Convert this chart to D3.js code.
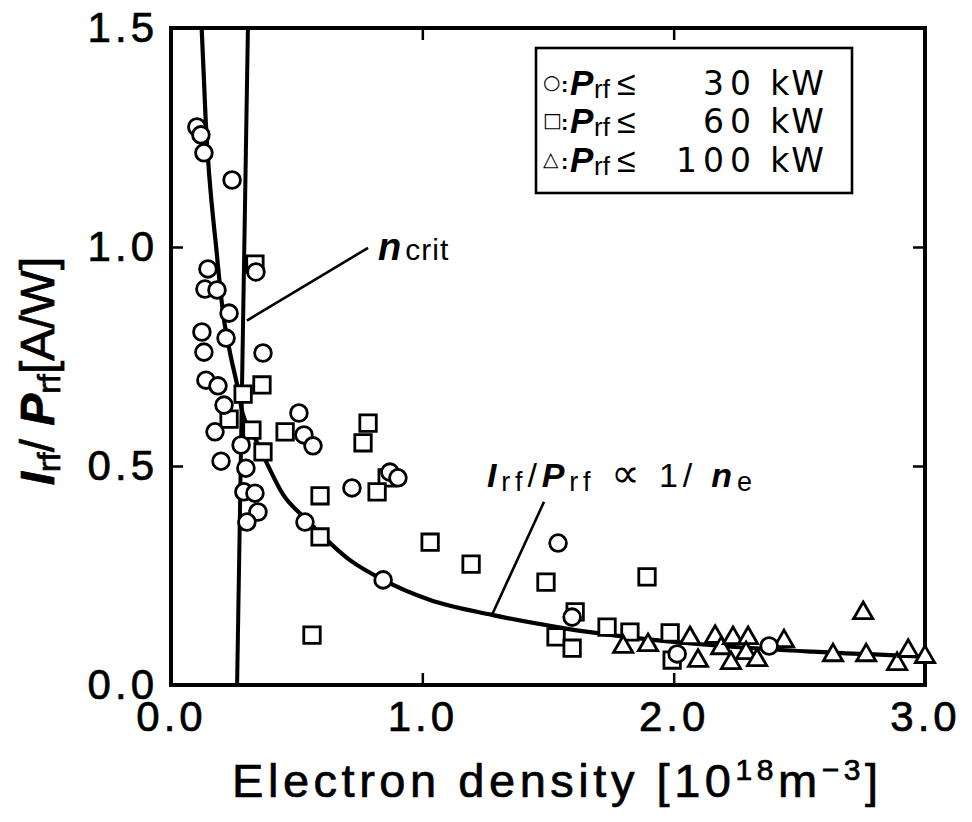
<!DOCTYPE html>
<html>
<head>
<meta charset="utf-8">
<script src="https://cdn.jsdelivr.net/npm/d3@7"></script>
<style>
  body { margin: 0; background: #fff; }
  svg { display: block; }
  text { font-family: "Liberation Sans", "DejaVu Sans", Arial, sans-serif; fill: #000; }
  .heavy { stroke: #000; stroke-width: 0.7px; }
</style>
</head>
<body>
<svg id="chart" width="972" height="822"></svg>
<script>
// Electron density [1e18 m^-3] and current-drive efficiency Irf/Prf [A/W]
// Prf <= 30 kW
const circleDensity = [0.103, 0.119, 0.131, 0.243, 0.147, 0.135, 0.183, 0.231, 0.123, 0.131, 0.219, 0.366, 0.338,
  0.139, 0.187, 0.211, 0.175, 0.279, 0.199, 0.298, 0.290, 0.334, 0.346, 0.302,
  0.509, 0.529, 0.565, 0.871, 0.903, 0.720, 0.533, 0.844, 1.540, 1.596, 2.014, 2.380];
const circleRatio = [1.274, 1.256, 1.215, 1.153, 0.950, 0.904, 0.902, 0.849, 0.806, 0.760, 0.792, 0.758, 0.943,
  0.696, 0.683, 0.639, 0.578, 0.548, 0.511, 0.495, 0.441, 0.438, 0.395, 0.372,
  0.621, 0.571, 0.546, 0.486, 0.473, 0.450, 0.372, 0.240, 0.324, 0.155, 0.071, 0.089];

// Prf <= 60 kW
const squareDensity = [0.334, 0.362, 0.287, 0.231, 0.322, 0.366, 0.454, 0.784, 0.764, 0.860, 0.820, 0.593, 0.593,
  1.031, 0.561, 1.194, 1.492, 1.894, 1.608, 1.532, 1.596, 1.735, 1.826, 1.986, 1.994];
const squareRatio = [0.961, 0.685, 0.664, 0.607, 0.582, 0.532, 0.578, 0.598, 0.553, 0.473, 0.441, 0.432, 0.338,
  0.326, 0.114, 0.276, 0.235, 0.247, 0.167, 0.110, 0.084, 0.132, 0.121, 0.119, 0.057];

// Prf <= 100 kW
const triangleDensity = [1.799, 1.898, 2.065, 2.097, 2.165, 2.189, 2.228, 2.236, 2.296, 2.288, 2.332, 2.439,
  2.634, 2.754, 2.766, 2.889, 2.933, 3.000];
const triangleRatio = [0.087, 0.091, 0.107, 0.055, 0.110, 0.084, 0.050, 0.107, 0.107, 0.073, 0.057, 0.100,
  0.068, 0.164, 0.068, 0.048, 0.078, 0.064];

// Irf/Prf ∝ 1/ne curve
const fitDensity = [0.122, 0.138, 0.182, 0.207, 0.235, 0.265, 0.285, 0.322, 0.366, 0.447, 0.533, 0.712, 0.844,
  1.031, 1.277, 1.560, 2.025, 2.555, 3.000];
const fitRatio = [1.500, 1.290, 0.986, 0.850, 0.758, 0.680, 0.620, 0.578, 0.525, 0.434, 0.381, 0.285, 0.240,
  0.194, 0.160, 0.130, 0.097, 0.076, 0.065];

// critical density line
const critDensity = [0.306, 0.263];
const critRatio = [1.5, 0.0];

const xTicks = [0, 1, 2, 3];
const yTicks = [0, 0.5, 1.0, 1.5];

const legendSymbols = ["○", "□", "△"];
const legendLimits = ["30", "60", "100"];

const svg = d3.select("#chart");
const W = 972, H = 822;
const m = { left: 171, right: 925, top: 28, bottom: 685 };

svg.append("rect").attr("width", W).attr("height", H).attr("fill", "#fff");

const x = d3.scaleLinear().domain([0, 3]).range([m.left, m.right]);
const y = d3.scaleLinear().domain([0, 1.5]).range([m.bottom, m.top]);

svg.append("clipPath").attr("id", "plot-clip")
  .append("rect").attr("x", m.left).attr("y", m.top)
  .attr("width", m.right - m.left).attr("height", m.bottom - m.top);

// axes with inward ticks
const fmt = d3.format(".1f");
function styleAxis(g, labels) {
  g.select(".domain").remove();
  g.selectAll(".tick line").attr("stroke", "#000").attr("stroke-width", 2.5);
  g.selectAll(".tick text")
    .attr("fill", "#000")
    .attr("class", "heavy")
    .style("font-size", "42px")
    .style("letter-spacing", "4px");
  if (!labels) g.selectAll(".tick text").remove();
}
svg.append("g").attr("transform", `translate(0,${m.bottom})`)
  .call(d3.axisBottom(x).tickValues(xTicks).tickSize(-12).tickPadding(16).tickFormat(fmt))
  .call(g => styleAxis(g, true));
svg.append("g").attr("transform", `translate(0,${m.top})`)
  .call(d3.axisTop(x).tickValues(xTicks).tickSize(-12).tickFormat(""))
  .call(g => styleAxis(g, false));
svg.append("g").attr("transform", `translate(${m.left},0)`)
  .call(d3.axisLeft(y).tickValues(yTicks).tickSize(-12).tickPadding(13).tickFormat(fmt))
  .call(g => styleAxis(g, true));
svg.append("g").attr("transform", `translate(${m.right},0)`)
  .call(d3.axisRight(y).tickValues(yTicks).tickSize(-12).tickFormat(""))
  .call(g => styleAxis(g, false));

// frame
svg.append("rect")
  .attr("x", m.left).attr("y", m.top)
  .attr("width", m.right - m.left).attr("height", m.bottom - m.top)
  .attr("fill", "none").attr("stroke", "#000").attr("stroke-width", 4);

const plot = svg.append("g").attr("clip-path", "url(#plot-clip)");

// critical density
const critLine = d3.line().x(d => x(d[0])).y(d => y(d[1]));
plot.append("path")
  .datum(d3.zip(critDensity, critRatio))
  .attr("d", critLine)
  .attr("fill", "none").attr("stroke", "#000").attr("stroke-width", 4);

// 1/ne curve
const fitLine = d3.line().x(d => x(d[0])).y(d => y(d[1])).curve(d3.curveMonotoneX);
plot.append("path")
  .datum(d3.zip(fitDensity, fitRatio))
  .attr("d", fitLine)
  .attr("fill", "none").attr("stroke", "#000").attr("stroke-width", 4.2);

// leader lines for the annotations
const leaders = [
  [[0.302, 0.832], [0.784, 0.998]],
  [[1.277, 0.160], [1.484, 0.418]]
];
svg.append("g").selectAll("line").data(leaders).join("line")
  .attr("x1", d => x(d[0][0])).attr("y1", d => y(d[0][1]))
  .attr("x2", d => x(d[1][0])).attr("y2", d => y(d[1][1]))
  .attr("stroke", "#000").attr("stroke-width", 2.6);

// markers
const marks = svg.append("g").attr("fill", "#fff").attr("stroke", "#000").attr("stroke-width", 2.8);
const sym = {
  circle: d3.symbol().type(d3.symbolCircle).size(220),
  square: d3.symbol().type(d3.symbolSquare).size(270),
  triangle: d3.symbol().type(d3.symbolTriangle).size(160)
};
function drawSeries(xs, ys, kind) {
  marks.append("g").selectAll("path").data(d3.zip(xs, ys)).join("path")
    .attr("transform", d => `translate(${x(d[0])},${y(d[1])})`)
    .attr("d", sym[kind]());
}
drawSeries(squareDensity, squareRatio, "square");
drawSeries(triangleDensity, triangleRatio, "triangle");
drawSeries(circleDensity, circleRatio, "circle");

// n_crit label
const nc = svg.append("text").attr("x", x(0.824)).attr("y", y(0.970));
nc.append("tspan").text("n").style("font-weight", "bold").style("font-style", "italic").style("font-size", "38px");
nc.append("tspan").text("crit").attr("dx", 4).style("font-size", "30px").style("letter-spacing", "1px");

// Irf/Prf ∝ 1/ne label
const fl = svg.append("text").attr("x", x(1.257)).attr("y", y(0.452))
  .attr("textLength", 265).style("font-size", "34px");
fl.append("tspan").text("I").style("font-weight", "bold").style("font-style", "italic");
fl.append("tspan").text("rf").attr("dy", 4).style("font-size", "27px");
fl.append("tspan").text("/").attr("dy", -4);
fl.append("tspan").text("P").style("font-weight", "bold").style("font-style", "italic");
fl.append("tspan").text("rf").attr("dy", 4).style("font-size", "27px");
fl.append("tspan").text(" ∝").attr("dy", -4).style("font-size", "40px");
fl.append("tspan").text(" 1/ ");
fl.append("tspan").text("n").style("font-weight", "bold").style("font-style", "italic");
fl.append("tspan").text("e").attr("dy", 4).style("font-size", "27px");

// legend
const lg = svg.append("g");
lg.append("rect").attr("x", 536).attr("y", 48).attr("width", 316).attr("height", 145)
  .attr("fill", "#fff").attr("stroke", "#000").attr("stroke-width", 2.6);
const rowY = [95, 133, 172];
legendSymbols.forEach((s, i) => {
  const by = rowY[i];
  lg.append("text").attr("x", 543).attr("y", by - 6).text(s)
    .style("font-family", "DejaVu Sans").style("font-size", "20px");
  lg.append("text").attr("x", 561).attr("y", by - 3).text(":").style("font-size", "22px").style("font-weight", "bold");
  lg.append("text").attr("x", 570).attr("y", by).text("P")
    .style("font-size", "35px").style("font-weight", "bold").style("font-style", "italic");
  lg.append("text").attr("x", 594).attr("y", by + 3).text("rf").style("font-size", "26px");
  lg.append("text").attr("x", 617).attr("y", by).text("≤").style("font-size", "34px");
  lg.append("text").attr("x", 757).attr("y", by).attr("text-anchor", "end").text(legendLimits[i])
    .style("font-family", "DejaVu Sans").style("font-size", "33px").style("letter-spacing", "6px");
  lg.append("text").attr("x", 826).attr("y", by).attr("text-anchor", "end")
    .text("kW").style("font-family", "DejaVu Sans").style("font-size", "33px").style("letter-spacing", "2px");
});

// axis titles
const xt = svg.append("text").attr("x", 232).attr("y", 797).attr("textLength", 646)
  .attr("class", "heavy").style("font-size", "47px");
xt.append("tspan").text("Electron density [10");
xt.append("tspan").text("18").attr("dy", -17).style("font-size", "30px");
xt.append("tspan").text("m").attr("dy", 17);
xt.append("tspan").text("−3").attr("dy", -17).style("font-size", "30px");
xt.append("tspan").text("]").attr("dy", 17);

const yt = svg.append("text").attr("transform", "translate(54,371) rotate(-90)")
  .attr("text-anchor", "middle").attr("class", "heavy").style("font-size", "48px");
yt.append("tspan").text("I").style("font-weight", "bold").style("font-style", "italic");
yt.append("tspan").text("rf").attr("dy", 6).style("font-size", "32px");
yt.append("tspan").text("/ ").attr("dy", -6);
yt.append("tspan").text("P").style("font-weight", "bold").style("font-style", "italic");
yt.append("tspan").text("rf").attr("dy", 6).style("font-size", "32px");
yt.append("tspan").text("[A/W]").attr("dy", -6);
</script>
</body>
</html>
